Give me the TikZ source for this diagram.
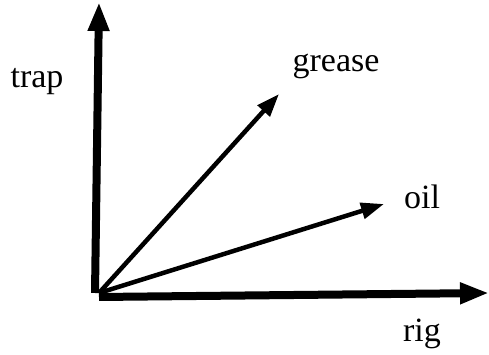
\documentclass[tikz,border=0pt]{standalone}
\usepackage{fontspec}
\setmainfont{Liberation Serif}
\usetikzlibrary{arrows.meta, positioning}

\begin{document}
\begin{tikzpicture}[
        x=1pt, y=1pt,
        every node/.style={font=\fontsize{34}{38}\selectfont, inner sep=0pt, anchor=base},
        axis/.style={-{Triangle[length=29pt, width=20pt]}, line width=8pt},
        vec/.style={-{Triangle[length=23pt, width=16pt]}, line width=4.5pt}
    ]
    \useasboundingbox (0,0) rectangle (489,355);

    \coordinate (O) at (99,62);
    \coordinate (Ytop) at (99,353);
    \coordinate (Xend) at (489,62);
    \coordinate (G) at (279,261);
    \coordinate (L) at (384,151);

    \node (trap) at (37,267) {trap};
    \node (grease) at (336,283) {grease};
    \node (oil) at (422,146) {oil};
    \node (rig) at (422,13) {rig};

    \draw[axis] ([xshift=-4pt]O) -- (Ytop);
    \draw[axis] ([yshift=-4pt]O) -- (Xend);

    \draw[vec] (O) -- (G);
    \draw[vec] (O) -- (L);
\end{tikzpicture}
\end{document}
